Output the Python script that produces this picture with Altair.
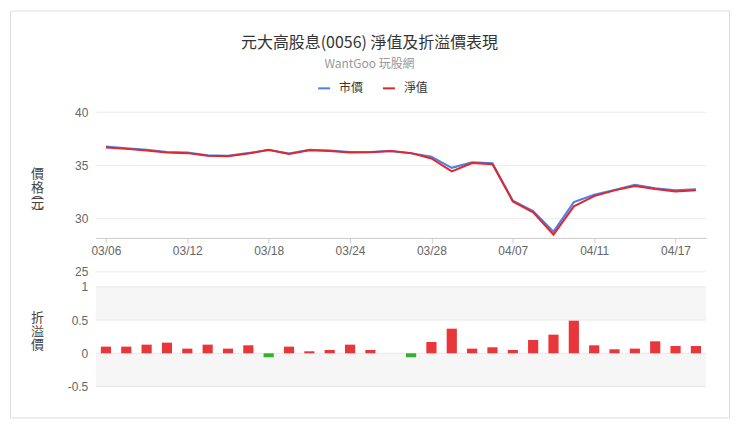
import altair as alt
import pandas as pd

dates = ["03/06", "03/07", "03/10", "03/11", "03/12", "03/13", "03/14", "03/17", "03/18", "03/19",
         "03/20", "03/21", "03/24", "03/25", "03/26", "03/27", "03/28", "03/31", "04/01", "04/02",
         "04/07", "04/08", "04/09", "04/10", "04/11", "04/14", "04/15", "04/16", "04/17", "04/18"]
market = [36.78, 36.62, 36.47, 36.27, 36.21, 35.97, 35.91, 36.17, 36.45, 36.12,
          36.47, 36.40, 36.27, 36.27, 36.37, 36.14, 35.82, 34.78, 35.30, 35.20,
          31.70, 30.72, 28.78, 31.55, 32.25, 32.70, 33.18, 32.85, 32.68, 32.76]
nav = [36.70, 36.56, 36.41, 36.22, 36.16, 35.91, 35.87, 36.12, 36.47, 36.09,
       36.44, 36.37, 36.22, 36.25, 36.37, 36.16, 35.66, 34.44, 35.22, 35.12,
       31.62, 30.59, 28.50, 31.16, 32.12, 32.66, 33.06, 32.78, 32.56, 32.66]
premium = [0.10, 0.10, 0.13, 0.16, 0.07, 0.13, 0.07, 0.12, -0.06, 0.10,
           0.03, 0.05, 0.13, 0.05, 0.0, -0.06, 0.17, 0.37, 0.07, 0.09,
           0.05, 0.20, 0.28, 0.49, 0.12, 0.06, 0.07, 0.18, 0.11, 0.11]
series_names = ["市價", "淨值"]
series_colors = ["#4a80e6", "#e2262c"]
price_ticks = [25, 30, 35, 40]
prem_ticks = [-0.5, 0, 0.5, 1]
band_lo = [0.5, -0.5]
band_hi = [1.0, 0.0]
x_label_dates = dates[::4]

TITLE = "元大高股息(0056) 淨值及折溢價表現"
SUBTITLE = "WantGoo 玩股網"
FONT = "Liberation Sans, Noto Sans CJK TC, sans-serif"
CJK = "Noto Sans CJK TC, Liberation Sans, sans-serif"

W, H = 721, 408
X_RANGE = [86, 698]
Y_PRICE = [262, 102]
Y_PREM = [377, 277]

lines_df = pd.DataFrame({
    "date": dates * 2,
    "series": [series_names[0]] * len(dates) + [series_names[1]] * len(dates),
    "value": market + nav,
    "ord": [0] * len(dates) + [1] * len(dates),
})
prem_df = pd.DataFrame({"date": dates, "premium": premium})
price_grid_df = pd.DataFrame({"v": price_ticks})
prem_grid_df = pd.DataFrame({"v": prem_ticks})
band_df = pd.DataFrame({"lo": band_lo, "hi": band_hi})

frac_scale = alt.Scale(domain=[0, 1], range=X_RANGE)
price_scale = alt.Scale(domain=[25, 40], range=Y_PRICE, zero=False, nice=False)
prem_scale = alt.Scale(domain=[-0.5, 1], range=Y_PREM, zero=False, nice=False)

title_style = dict(titleAngle=0, titleAlign="center", titleBaseline="top", titleFont=CJK,
                   titleFontSize=13, titleFontWeight="normal", titleColor="#444444")

price_grid = alt.Chart(price_grid_df).mark_rule(color="#ececec", strokeWidth=1).encode(
    x=alt.XDatum(0, type="quantitative", scale=frac_scale, axis=None),
    x2=alt.X2Datum(1),
    y=alt.Y("v:Q", scale=price_scale,
            axis=alt.Axis(orient="left", offset=-X_RANGE[0], labels=False, ticks=False,
                          domain=False, grid=False, title=["︵", "元", "︶"],
                          titleX=-59, titleY=177, titleLineHeight=10, **title_style)),
)

bands = alt.Chart(band_df).mark_rect(color="#f6f6f6").encode(
    x=alt.XDatum(0, type="quantitative", scale=frac_scale, axis=None),
    x2=alt.X2Datum(1),
    y=alt.Y("lo:Q", scale=prem_scale, axis=None),
    y2="hi:Q",
)

prem_grid = alt.Chart(prem_grid_df).mark_rule(color="#e8e8e8", strokeWidth=1).encode(
    x=alt.XDatum(0, type="quantitative", scale=frac_scale, axis=None),
    x2=alt.X2Datum(1),
    y=alt.Y("v:Q", scale=prem_scale, axis=None),
)

lines = alt.Chart(lines_df).mark_line(strokeWidth=2).encode(
    x=alt.X("date:O", sort=dates,
            scale=alt.Scale(type="point", domain=dates, range=X_RANGE, padding=0.5),
            axis=alt.Axis(orient="bottom", offset=-(H - 228), values=x_label_dates,
                          title=None, labelAngle=0, labelFont=FONT, labelFontSize=12,
                          labelColor="#666666", tickColor="#cccccc", tickSize=5,
                          domainColor="#cccccc", labelPadding=3, grid=False)),
    y=alt.Y("value:Q", scale=price_scale,
            axis=alt.Axis(orient="left", offset=-X_RANGE[0], values=price_ticks, grid=False,
                          domain=False, ticks=False, labelPadding=8, labelFont=FONT,
                          labelFontSize=12, labelColor="#666666",
                          title=["價", "格"], titleX=-59, titleY=157, titleLineHeight=14,
                          **title_style)),
    color=alt.Color("series:N", scale=alt.Scale(domain=series_names, range=series_colors),
                    legend=alt.Legend(orient="none", legendX=308, legendY=71,
                                      direction="horizontal", title=None,
                                      symbolType="stroke", symbolStrokeWidth=2,
                                      symbolSize=144, labelFont=CJK, labelFontSize=12,
                                      labelColor="#333333", labelOffset=8,
                                      columnPadding=15, padding=0)),
    order="ord:Q",
    detail="series:N",
)

bars = alt.Chart(prem_df).mark_bar().encode(
    x=alt.X("date:O", sort=dates,
            scale=alt.Scale(type="band", domain=dates, range=X_RANGE,
                            paddingInner=0.5, paddingOuter=0.25),
            axis=None),
    y=alt.Y("premium:Q", scale=prem_scale,
            axis=alt.Axis(orient="left", offset=-X_RANGE[0], values=prem_ticks, grid=False,
                          domain=False, ticks=False, labelPadding=8, labelFont=FONT,
                          labelFontSize=12, labelColor="#666666", format=".1~f",
                          labelExpr="replace(datum.label, '−', '-')",
                          title=["折", "溢", "價"], titleX=-59, titleY=302,
                          titleLineHeight=13.5, **title_style)),
    color=alt.condition(alt.datum.premium < 0, alt.value("#34b02b"), alt.value("#e8363b")),
)

chart = alt.layer(price_grid, bands, prem_grid, lines, bars).resolve_scale(
    x="independent", y="independent"
).properties(
    width=W, height=H,
    padding={"left": 2, "top": 2, "right": 3, "bottom": 3},
    title=alt.TitleParams(TITLE, subtitle=SUBTITLE, anchor="middle", frame="group",
                          offset=-60, font=CJK, fontSize=16, fontWeight="normal",
                          color="#333333", subtitleFont=CJK, subtitleFontSize=12,
                          subtitleColor="#999999", subtitlePadding=8),
).configure_view(stroke="#dddddd", strokeWidth=1).configure(background="white")

chart.save("out.html", embed_options={"renderer": "svg", "actions": False})
